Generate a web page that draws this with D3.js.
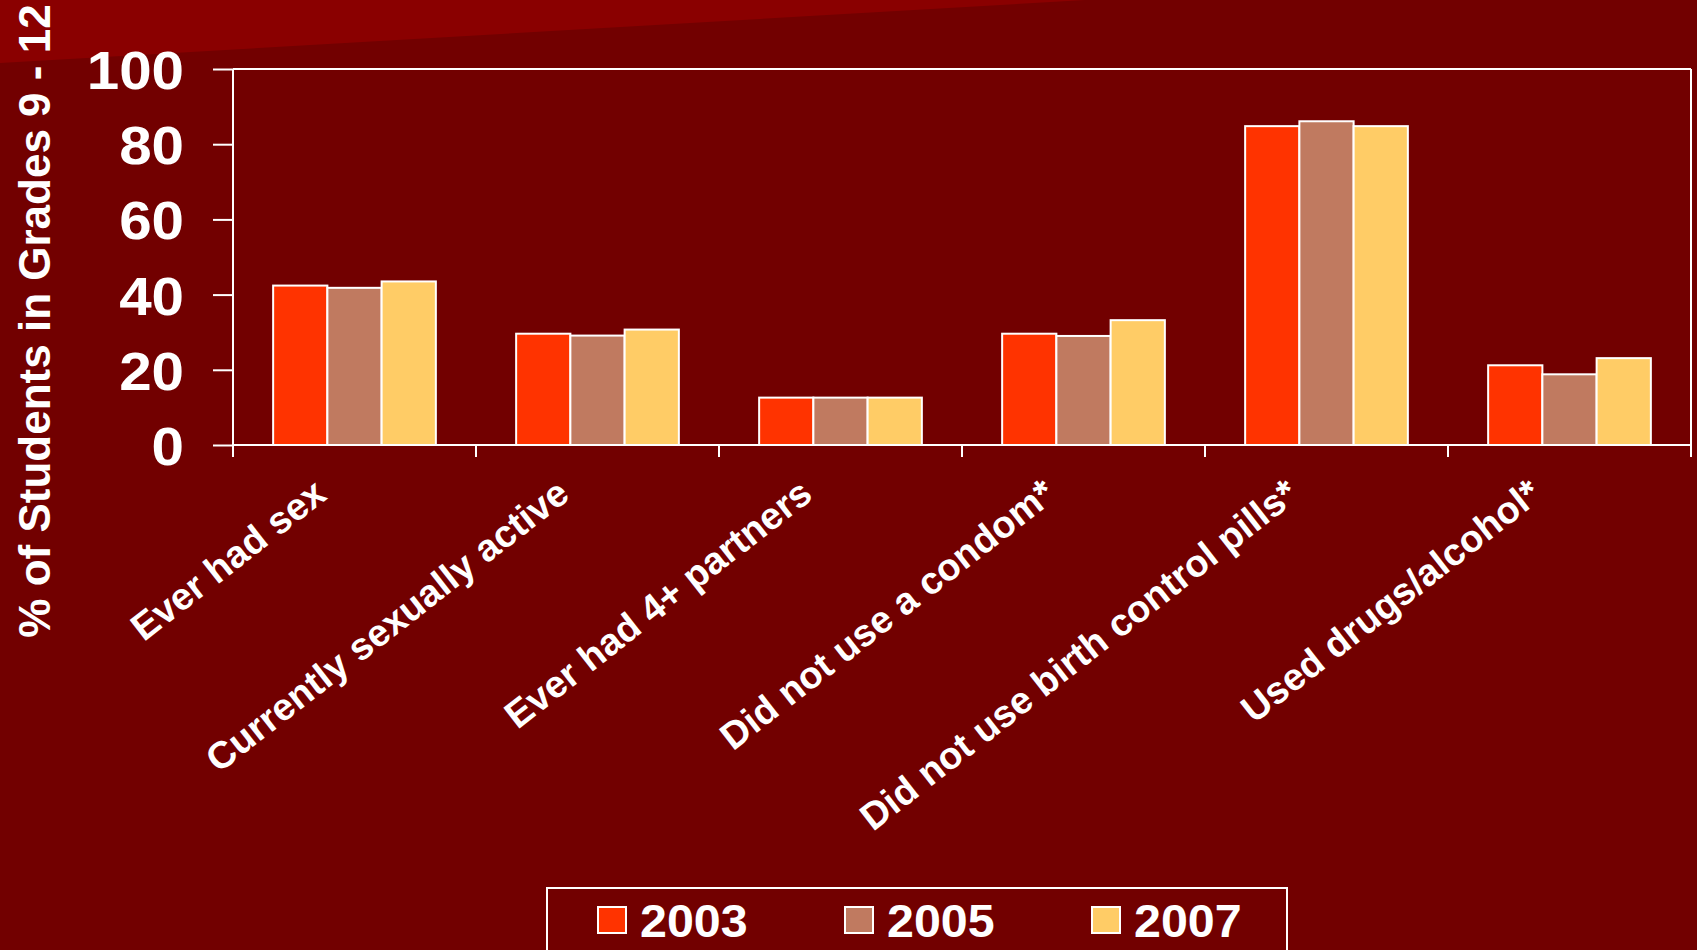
<!DOCTYPE html>
<html>
<head>
<meta charset="utf-8">
<script src="https://cdn.jsdelivr.net/npm/d3@7"></script>
<style>
  html, body { margin: 0; padding: 0; background: #720000; overflow: hidden; }
  svg { display: block; }
  text { font-family: "Liberation Sans", Arial, sans-serif; font-weight: bold; fill: #ffffff; }
</style>
</head>
<body>
<script>
// ---- data ----
const categories = [
  "Ever had sex",
  "Currently sexually active",
  "Ever had 4+ partners",
  "Did not use a condom*",
  "Did not use birth control pills*",
  "Used drugs/alcohol*"
];
const years = ["2003", "2005", "2007"];
const values2003 = [42.4, 29.6, 12.6, 29.6, 84.8, 21.2];
const values2005 = [41.8, 29.1, 12.6, 29.0, 86.1, 18.8];
const values2007 = [43.5, 30.7, 12.6, 33.2, 84.8, 23.1];
const yTickValues = [0, 20, 40, 60, 80, 100];
const yTitle = "% of Students in Grades 9 - 12";
const seriesColors = ["#FF3300", "#C07A60", "#FFCC66"];

const series = [values2003, values2005, values2007];

// ---- layout ----
const W = 1697, H = 950;
const plot = { left: 233, right: 1691, top: 69, bottom: 445 };

const svg = d3.select("body").append("svg").attr("width", W).attr("height", H);

// background
svg.append("rect").attr("x", 0).attr("y", 0).attr("width", W).attr("height", H).attr("fill", "#720000");
svg.append("polygon").attr("points", "0,0 1085,0 0,63").attr("fill", "#8A0000");

const x0 = d3.scaleBand().domain(categories).range([plot.left, plot.right]).padding(0);
const x1 = d3.scaleBand().domain(years).range([0, x0.bandwidth()]).paddingInner(0).paddingOuter(0.74);
const y = d3.scaleLinear().domain([0, 100]).range([plot.bottom, plot.top]);

// bars
const groups = svg.append("g").selectAll("g")
  .data(categories)
  .join("g")
  .attr("transform", d => `translate(${x0(d)},0)`);

groups.selectAll("rect")
  .data((d, i) => years.map((yr, j) => ({ yr, j, v: series[j][i] })))
  .join("rect")
  .attr("x", d => x1(d.yr))
  .attr("y", d => y(d.v))
  .attr("width", x1.bandwidth())
  .attr("height", d => y(0) - y(d.v))
  .attr("fill", d => seriesColors[d.j])
  .attr("stroke", "#ffffff")
  .attr("stroke-width", 2);

// frame (top and right)
svg.append("line").attr("x1", plot.left).attr("x2", plot.right).attr("y1", plot.top).attr("y2", plot.top)
  .attr("stroke", "#fff").attr("stroke-width", 2);
svg.append("line").attr("x1", plot.right).attr("x2", plot.right).attr("y1", plot.top).attr("y2", plot.bottom)
  .attr("stroke", "#fff").attr("stroke-width", 2);

// y axis
const yAxis = svg.append("g")
  .attr("transform", `translate(${plot.left},0)`)
  .call(d3.axisLeft(y).tickValues(yTickValues).tickSize(20).tickPadding(0).tickFormat(d3.format("d")));
yAxis.selectAll("path, line").attr("stroke", "#fff").attr("stroke-width", 2);
yAxis.select(".domain").attr("d", `M0,${plot.bottom}V${plot.top}`);
yAxis.selectAll("text")
  .attr("x", 0)
  .attr("dy", "0.36em")
  .attr("transform", "translate(-49,0) scale(1.08,1)")
  .style("font-size", "54px")
  .style("font-family", "'Liberation Sans', Arial, sans-serif")
  .style("font-weight", "bold")
  .attr("fill", "#fff")
  .attr("text-anchor", "end");

// x axis
const xAxisG = svg.append("g");
xAxisG.append("line").attr("x1", plot.left).attr("x2", plot.right).attr("y1", plot.bottom).attr("y2", plot.bottom)
  .attr("stroke", "#fff").attr("stroke-width", 2);
const boundaries = categories.map(c => x0(c)).concat([x0(categories[categories.length - 1]) + x0.bandwidth()]);
xAxisG.selectAll("line.tick").data(boundaries).join("line")
  .attr("class", "tick")
  .attr("x1", d => d).attr("x2", d => d)
  .attr("y1", plot.bottom).attr("y2", plot.bottom + 12)
  .attr("stroke", "#fff").attr("stroke-width", 2);

xAxisG.selectAll("text.xl").data(categories).join("text")
  .attr("class", "xl")
  .attr("text-anchor", "end")
  .attr("transform", d => `translate(${x0(d) + x0.bandwidth() / 2 - 26},${plot.bottom + 53}) rotate(-38)`)
  .style("font-size", "38px")
  .text(d => d);

// y title
svg.append("text")
  .attr("text-anchor", "middle")
  .attr("transform", `translate(50,321) rotate(-90)`)
  .style("font-size", "44px")
  .text(yTitle);

// legend
const legend = svg.append("g");
legend.append("rect").attr("x", 547).attr("y", 888).attr("width", 740).attr("height", 100)
  .attr("fill", "none").attr("stroke", "#fff").attr("stroke-width", 2);
const legX = d3.scalePoint().domain(years).range([598, 1092]);
const items = legend.selectAll("g.item").data(years).join("g").attr("class", "item")
  .attr("transform", d => `translate(${legX(d)},907)`);
items.append("rect").attr("width", 28).attr("height", 26)
  .attr("fill", (d, i) => seriesColors[i]).attr("stroke", "#fff").attr("stroke-width", 2);
items.append("text").attr("x", 0).attr("y", 30)
  .attr("transform", "translate(42,0) scale(1.03,1)")
  .style("font-size", "47px")
  .text(d => d);
</script>
</body>
</html>
